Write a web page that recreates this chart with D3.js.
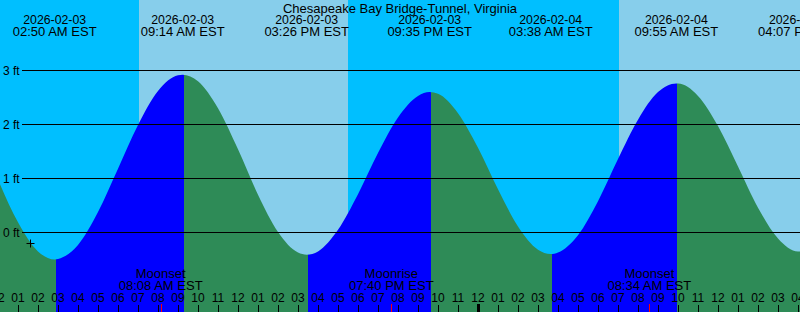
<!DOCTYPE html>
<html>
<head>
<meta charset="utf-8">
<script src="https://cdn.jsdelivr.net/npm/d3@7"></script>
<style>
  body { margin: 0; }
  svg { display: block; font-family: "Liberation Sans", Arial, sans-serif; font-size: 13px; }
  .num { font-size: 12px; }
  .date { font-size: 12.3px; }
</style>
</head>
<body>
<svg id="chart" width="800" height="312"></svg>
<script>
const title = "Chesapeake Bay Bridge-Tunnel, Virginia";

// Hourly water level (ft), starting 2026-02-03 00:00 EST
const hourlyStart = "2026-02-03 00:00";
const hourlyHeights = [
  0.98, 0.19, -0.35, -0.49, -0.23, 0.38, 1.18, 1.99, 2.62, 2.91,
  2.80, 2.30, 1.54, 0.70, 0.01, -0.37, -0.35, 0.05, 0.71, 1.47,
  2.13, 2.53, 2.57, 2.21, 1.57, 0.80, 0.11, -0.32, -0.37, -0.05,
  0.58, 1.36, 2.09, 2.60, 2.76, 2.53, 1.97, 1.22, 0.46, -0.11,
  -0.35, -0.30,
];

// High / low tides
const tideTimes = [
  "2026-02-02 20:50", "2026-02-03 02:50", "2026-02-03 09:14", "2026-02-03 15:26",
  "2026-02-03 21:35", "2026-02-04 03:38", "2026-02-04 09:55", "2026-02-04 16:07",
];
const tideHeights = [2.75, -0.50, 2.92, -0.41, 2.60, -0.40, 2.76, -0.35];

// Sun
const sunrises = ["2026-02-03 07:03", "2026-02-04 07:03"];
const sunsets = ["2026-02-03 17:30", "2026-02-04 17:31"];

// Moon
const moonTimes = ["2026-02-03 08:08", "2026-02-03 19:40", "2026-02-04 08:34"];
const moonEvents = ["Moonset", "Moonrise", "Moonset"];

// "now" marker
const nowTime = "2026-02-03 01:36";
const nowHeight = -0.19;

const levelTicks = [0, 1, 2, 3];
const viewStart = "2026-02-03 00:06";
const viewEnd = "2026-02-04 16:06";

const parse = d3.utcParse("%Y-%m-%d %H:%M");
const fmtDate = d3.utcFormat("%Y-%m-%d");
const fmtTime = d3.utcFormat("%I:%M %p EST");
const fmtHour = d3.utcFormat("%I");

const svg = d3.select("#chart"),
  width = +svg.attr("width"),
  height = +svg.attr("height");

const x = d3.scaleUtc()
  .domain([parse(viewStart), parse(viewEnd)])
  .range([0, width]);
const y = d3.scaleLinear().domain([0, 3]).range([232.5, 70.5]);

// Background: night / day
svg.append("rect")
  .attr("width", width).attr("height", height)
  .attr("fill", "#00bfff");
svg.selectAll("rect.day")
  .data(sunrises)
  .join("rect")
  .attr("class", "day")
  .attr("x", (d) => x(parse(d)))
  .attr("width", (d, i) => x(parse(sunsets[i])) - x(parse(d)))
  .attr("y", 0)
  .attr("height", height)
  .attr("fill", "#87ceeb");

// Curve points: hourly + extremes
const t0 = parse(hourlyStart);
const tides = tideTimes.map((t, i) => ({ t: parse(t), v: tideHeights[i] }));
const hourly = hourlyHeights.map((v, i) => ({ t: d3.utcHour.offset(t0, i), v }));
const lastT = hourly[hourly.length - 1].t;
const points = hourly
  .concat(tides.filter((d) => d.t > t0 && d.t < lastT))
  .sort((a, b) => a.t - b.t);

const area = d3.area()
  .x((d) => x(d.t))
  .y0(height)
  .y1((d) => y(d.v))
  .curve(d3.curveMonotoneX);

svg.append("clipPath")
  .attr("id", "water")
  .append("path")
  .datum(points)
  .attr("d", area);

// Rising = blue, falling = green (snapped to the pixel column after the extreme)
const segments = tides.map((d, i) => ({
  from: d.t,
  to: i < tides.length - 1 ? tides[i + 1].t : d3.utcHour.offset(lastT, 2),
  rising: i < tides.length - 1 ? tides[i + 1].v > d.v : d.v < tides[i - 1].v,
}));
const col = (t) => Math.round(x(t)) + 1;
svg.append("g")
  .attr("clip-path", "url(#water)")
  .selectAll("rect")
  .data(segments)
  .join("rect")
  .attr("x", (d) => col(d.from))
  .attr("width", (d) => col(d.to) - col(d.from))
  .attr("y", 0)
  .attr("height", height)
  .attr("fill", (d) => (d.rising ? "#0000ff" : "#2e8b57"));

// Level lines
const levels = svg.append("g");
levels.selectAll("line")
  .data(levelTicks)
  .join("line")
  .attr("x1", 22)
  .attr("x2", width)
  .attr("y1", (d) => y(d))
  .attr("y2", (d) => y(d))
  .attr("stroke", "#000");
levels.selectAll("text")
  .data(levelTicks)
  .join("text")
  .attr("class", "num")
  .attr("x", 3)
  .attr("y", (d) => y(d) + 4)
  .text((d) => `${d} ft`);

// Now marker
const nx = Math.round(x(parse(nowTime))) + 0.5,
  ny = Math.round(y(nowHeight)) + 0.5;
svg.append("path")
  .attr("d", `M${nx - 4},${ny}H${nx + 4}M${nx},${ny - 4}V${ny + 4}`)
  .attr("stroke", "#000");

// Hour ticks and labels
const hours = d3.utcHour.range(d3.utcHour.offset(x.domain()[0], -2), d3.utcHour.offset(x.domain()[1], 2));
svg.append("g")
  .selectAll("line")
  .data(hours)
  .join("line")
  .attr("x1", (d) => Math.round(x(d)) + 0.5)
  .attr("x2", (d) => Math.round(x(d)) + 0.5)
  .attr("y1", (d) => (d.getUTCHours() === 0 ? 304 : 305))
  .attr("y2", height)
  .attr("stroke", "#000")
  .attr("stroke-width", (d) => (d.getUTCHours() === 0 ? 3 : 1));
svg.append("g")
  .attr("class", "num")
  .attr("text-anchor", "middle")
  .selectAll("text")
  .data(hours)
  .join("text")
  .attr("x", (d) => x(d))
  .attr("y", 302)
  .text((d) => fmtHour(d));

// Moon events
const moon = svg.append("g").attr("text-anchor", "middle");
moon.selectAll("line")
  .data(moonTimes)
  .join("line")
  .attr("x1", (d) => Math.round(x(parse(d))) + 0.5)
  .attr("x2", (d) => Math.round(x(parse(d))) + 0.5)
  .attr("y1", 304)
  .attr("y2", height)
  .attr("stroke", "#ff0000");
moon.selectAll("text.ev")
  .data(moonTimes)
  .join("text")
  .attr("class", "ev")
  .attr("x", (d) => x(parse(d)))
  .attr("y", 277.5)
  .text((d, i) => moonEvents[i]);
moon.selectAll("text.tm")
  .data(moonTimes)
  .join("text")
  .attr("class", "tm")
  .attr("x", (d) => x(parse(d)))
  .attr("y", 290)
  .text((d) => fmtTime(parse(d)));

// Tide labels
const tideLabels = svg.append("g").attr("text-anchor", "middle");
tideLabels.selectAll("text.date")
  .data(tides)
  .join("text")
  .attr("class", "date")
  .attr("x", (d) => x(d.t))
  .attr("y", 24)
  .text((d) => fmtDate(d.t));
tideLabels.selectAll("text.t")
  .data(tides)
  .join("text")
  .attr("class", "t")
  .attr("x", (d) => x(d.t))
  .attr("y", 36)
  .text((d) => fmtTime(d.t));

// Title
svg.append("text")
  .attr("x", width / 2)
  .attr("y", 12.5)
  .attr("text-anchor", "middle")
  .text(title);
</script>
</body>
</html>
